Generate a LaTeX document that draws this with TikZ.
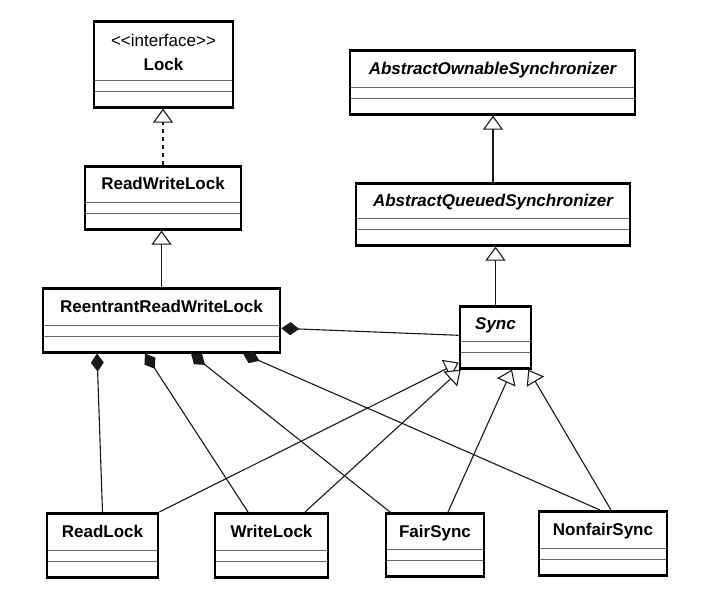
\documentclass[tikz,border=0pt]{standalone}
\usepackage{fontspec}
\setmainfont{Liberation Sans}
\usetikzlibrary{arrows.meta}
\newcommand{\classfont}{\fontsize{17}{20}\selectfont}
\begin{document}
\begin{tikzpicture}[x=1pt,y=-1pt,
    classbox/.style={draw, line width=2.6pt, fill=white, minimum width=#1,
      inner sep=0pt, text height=24pt, text depth=40pt,
      font=\classfont\bfseries, anchor=north,
      path picture={\draw[line width=1.3pt, black!60]
        ([yshift=16pt]path picture bounding box.south west) -- ([yshift=16pt]path picture bounding box.south east)
        ([yshift=27pt]path picture bounding box.south west) -- ([yshift=27pt]path picture bounding box.south east);}},
    conn/.style={line width=1.1pt, black!90},
    inherit/.style={conn, -{Triangle[open, length=14pt, width=20pt, fill=white, line width=1.1pt]}},
    realize/.style={inherit, dash pattern=on 4pt off 4pt},
    comp/.style={conn, {Diamond[length=18pt, width=13pt]}-}]
  \fill[white] (0,0) rectangle (710,602);
  \useasboundingbox (0,0) rectangle (710,602);

  \node[classbox=139pt, text height=49pt, text depth=37pt] (lock) at (163.5,20) {Lock};
  \node[font=\classfont, anchor=base] (lockst) at (163.5,47) {<\kern0pt<interface>\kern0pt>};
  \node[classbox=156pt, text height=23pt, text depth=40pt] (rwl) at (163,165) {ReadWriteLock};
  \node[classbox=237pt] (rrwl) at (161.5,287) {ReentrantReadWriteLock};
  \node[classbox=285pt] (aos) at (492.5,49) {\itshape AbstractOwnableSynchronizer};
  \node[classbox=274pt, text height=23pt, text depth=39pt] (aqs) at (493,182) {\itshape AbstractQueuedSynchronizer};
  \node[classbox=71pt, text height=23pt, text depth=39pt] (sync) at (495.5,305) {\itshape Sync};
  \node[classbox=111pt] (rlock) at (102.5,512) {ReadLock};
  \node[classbox=113pt] (wlock) at (271.5,512) {WriteLock};
  \node[classbox=98pt, text depth=39pt] (fair) at (435,512) {FairSync};
  \node[classbox=128pt] (nonfair) at (603,510) {NonfairSync};

  \draw[realize] (rwl.north) -- (rwl.north |- lock.south);
  \draw[inherit] (rrwl.north) -- (rrwl.north |- rwl.south);
  \draw[inherit] (aqs.north) -- (aqs.north |- aos.south);
  \draw[inherit] (sync.north) -- (sync.north |- aqs.south);

  \draw[comp] ([yshift=-8pt]rrwl.east) -- ([yshift=2pt]sync.west);
  \draw[comp] ([xshift=-64.5pt]rrwl.south) -- (rlock.north);
  \draw[comp] ([xshift=-16.5pt]rrwl.south) -- ([xshift=-23.5pt]wlock.north);
  \draw[comp] ([xshift=29.5pt]rrwl.south) -- ([xshift=-45pt]fair.north);
  \draw[comp] ([xshift=81.5pt]rrwl.south) -- ([xshift=-3pt]nonfair.north);

  \draw[inherit] (rlock.north east) -- ([yshift=7pt]sync.south west);
  \draw[inherit] ([xshift=33.5pt]wlock.north) -- ([xshift=2pt]sync.south west);
  \draw[inherit] ([xshift=13pt]fair.north) -- ([xshift=16.5pt]sync.south);
  \draw[inherit] ([xshift=8pt]nonfair.north) -- ([xshift=-4pt]sync.south east);
\end{tikzpicture}
\end{document}
